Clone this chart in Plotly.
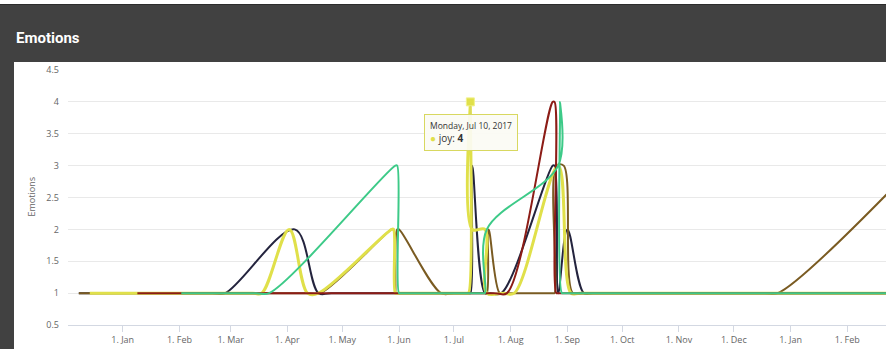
import pandas as pd
import plotly.graph_objects as go

# ---------------- data ----------------
fear_dates = ["2016-12-08", "2017-02-19", "2017-02-26", "2017-04-05", "2017-04-18", "2017-04-25",
              "2017-07-09", "2017-07-10", "2017-07-11", "2017-07-18", "2017-07-21", "2017-07-27",
              "2017-08-24", "2017-08-25", "2017-08-27", "2017-09-01", "2017-09-10", "2017-09-15",
              "2018-03-31"]
fear_values = [1, 1, 1, 2, 1, 1,
               1, 1, 3, 1, 1, 1,
               3, 3, 1, 2, 1, 1,
               1]

disgust_dates = ["2016-12-08", "2017-04-12", "2017-04-19", "2017-05-28", "2017-05-29", "2017-05-30",
                 "2017-05-31", "2017-06-01", "2017-06-24", "2017-07-01", "2017-07-18", "2017-07-19",
                 "2017-07-20", "2017-07-26", "2017-07-29", "2017-08-24", "2017-08-25", "2017-08-26",
                 "2017-08-30", "2017-09-04", "2017-09-09", "2017-12-18", "2017-12-25", "2018-04-12"]
disgust_values = [1, 1, 1, 2, 2, 1,
                  2, 2, 1, 1, 1, 1,
                  2, 1, 1, 1, 1, 3,
                  3, 1, 1, 1, 1, 4]

joy_dates = ["2016-12-14", "2017-03-13", "2017-03-18", "2017-04-02", "2017-04-12", "2017-04-18",
             "2017-05-28", "2017-05-29", "2017-05-30", "2017-05-31", "2017-07-08", "2017-07-09",
             "2017-07-10", "2017-07-11", "2017-07-18", "2017-07-19", "2017-07-28", "2017-08-03",
             "2017-08-27", "2017-09-03", "2017-09-08", "2018-03-31"]
joy_values = [1, 1, 1, 2, 1, 1,
              2, 2, 1, 1, 1, 1,
              4, 2, 2, 1, 1, 1,
              3, 1, 1, 1]

anger_dates = ["2017-01-09", "2017-07-23", "2017-07-30", "2017-08-24", "2017-08-25", "2017-08-26",
               "2017-08-27", "2018-03-31"]
anger_values = [1, 1, 1, 4, 4, 1,
                1, 1]

sadness_dates = ["2017-02-02", "2017-03-15", "2017-03-22", "2017-05-30", "2017-05-31", "2017-06-01",
                 "2017-06-02", "2017-07-17", "2017-07-18", "2017-07-19", "2017-08-27", "2017-08-28",
                 "2017-08-29", "2017-08-30", "2018-03-31"]
sadness_values = [1, 1, 1, 3, 3, 1,
                  1, 1, 1, 2, 3, 4,
                  1, 1, 1]

y_ticks = [0.5, 1, 1.5, 2, 2.5, 3, 3.5, 4, 4.5]
x_range = ["2016-12-02 02:00", "2018-02-22 04:00"]

# ---------------- style ----------------
C_FEAR = "#24243e"
C_DISGUST = "#7a5b22"
C_JOY = "#e0e04a"
C_ANGER = "#8c1c16"
C_SADNESS = "#3dca88"

W, H = 886, 349
PL, PR, PT, PB = 68, 886, 70, 325


def px_x(p):
    return (p - PL) / (PR - PL)


def px_y(p):
    return (PB - p) / (PB - PT)


fig = go.Figure()
series = [
    ("fear", fear_dates, fear_values, C_FEAR, 2),
    ("disgust", disgust_dates, disgust_values, C_DISGUST, 2),
    ("joy", joy_dates, joy_values, C_JOY, 3),
    ("anger", anger_dates, anger_values, C_ANGER, 2),
    ("sadness", sadness_dates, sadness_values, C_SADNESS, 2),
]
for name, xs, ys, col, lw in series:
    fig.add_trace(go.Scatter(x=xs, y=ys, name=name, mode="lines",
                             line=dict(color=col, width=lw, shape="spline", smoothing=1)))

# hovered point of joy
idx = joy_values.index(max(joy_values))
fig.add_trace(go.Scatter(x=[joy_dates[idx]], y=[joy_values[idx]], mode="markers",
                         marker=dict(symbol="square", size=8, color=C_JOY,
                                     line=dict(color="#f0f08c", width=1))))

label = pd.Timestamp(joy_dates[idx]).strftime("%A, %b %d, %Y")

shapes = [
    dict(type="rect", xref="paper", yref="paper", x0=px_x(0), x1=px_x(886), y0=px_y(62), y1=px_y(4),
         fillcolor="#414141", line=dict(width=0), layer="below"),
    dict(type="rect", xref="paper", yref="paper", x0=px_x(0), x1=px_x(886), y0=px_y(5), y1=px_y(4),
         fillcolor="#2c2c2c", line=dict(width=0), layer="below"),
    dict(type="rect", xref="paper", yref="paper", x0=px_x(0), x1=px_x(14), y0=px_y(349), y1=px_y(62),
         fillcolor="#414141", line=dict(width=0), layer="below"),
]

annotations = [
    dict(text="Emotions", xref="paper", yref="paper", x=px_x(14), y=px_y(37.5),
         xanchor="left", yanchor="middle", showarrow=False,
         font=dict(family="Roboto", size=15, color="white", weight=700)),
    dict(text="Emotions", xref="paper", yref="paper", x=px_x(31), y=px_y(197.5),
         xanchor="center", yanchor="middle", showarrow=False, textangle=-90,
         font=dict(family="Open Sans", size=9, color="#666666")),
    dict(x=joy_dates[idx], y=joy_values[idx], xref="x", yref="y",
         text=(f"<span style='font-size:8.5px;color:#333333'>{label}</span><br>"
               f"<span style='color:{C_JOY}'>●</span> joy: <b>{joy_values[idx]}</b>"),
         showarrow=True, arrowhead=0, arrowwidth=1, arrowcolor="#d8d860", ax=1, ay=31, standoff=4,
         align="left", bgcolor="rgba(251,251,244,0.93)", bordercolor="#d8d860", borderwidth=1, borderpad=5,
         font=dict(family="Open Sans", size=10, color="#333333")),
]

fig.update_layout(
    width=W, height=H,
    margin=dict(l=PL, r=W - PR, t=PT, b=H - PB, pad=0),
    paper_bgcolor="white", plot_bgcolor="white",
    showlegend=False, hovermode=False,
    shapes=shapes, annotations=annotations,
    xaxis=dict(type="date", range=x_range, dtick="M1", tick0="2017-01-01", tickformat="%-d. %b",
               showgrid=False, zeroline=False, showline=True, linecolor="#d3d8e2", linewidth=1,
               ticks="outside", ticklen=6, tickcolor="#d3d8e2",
               tickfont=dict(family="Open Sans", size=9, color="#666666")),
    yaxis=dict(range=[0.5, 4.5], tickvals=y_ticks, ticktext=[f"{v:g}" for v in y_ticks],
               showgrid=True, gridcolor="#e9e9e9", gridwidth=1, zeroline=False, showline=False,
               ticks="", ticklabelstandoff=8,
               tickfont=dict(family="Open Sans", size=9, color="#666666")),
)

fig.write_html("out.html", config={"displayModeBar": False},
               post_script="document.body.style.margin='0px';")
